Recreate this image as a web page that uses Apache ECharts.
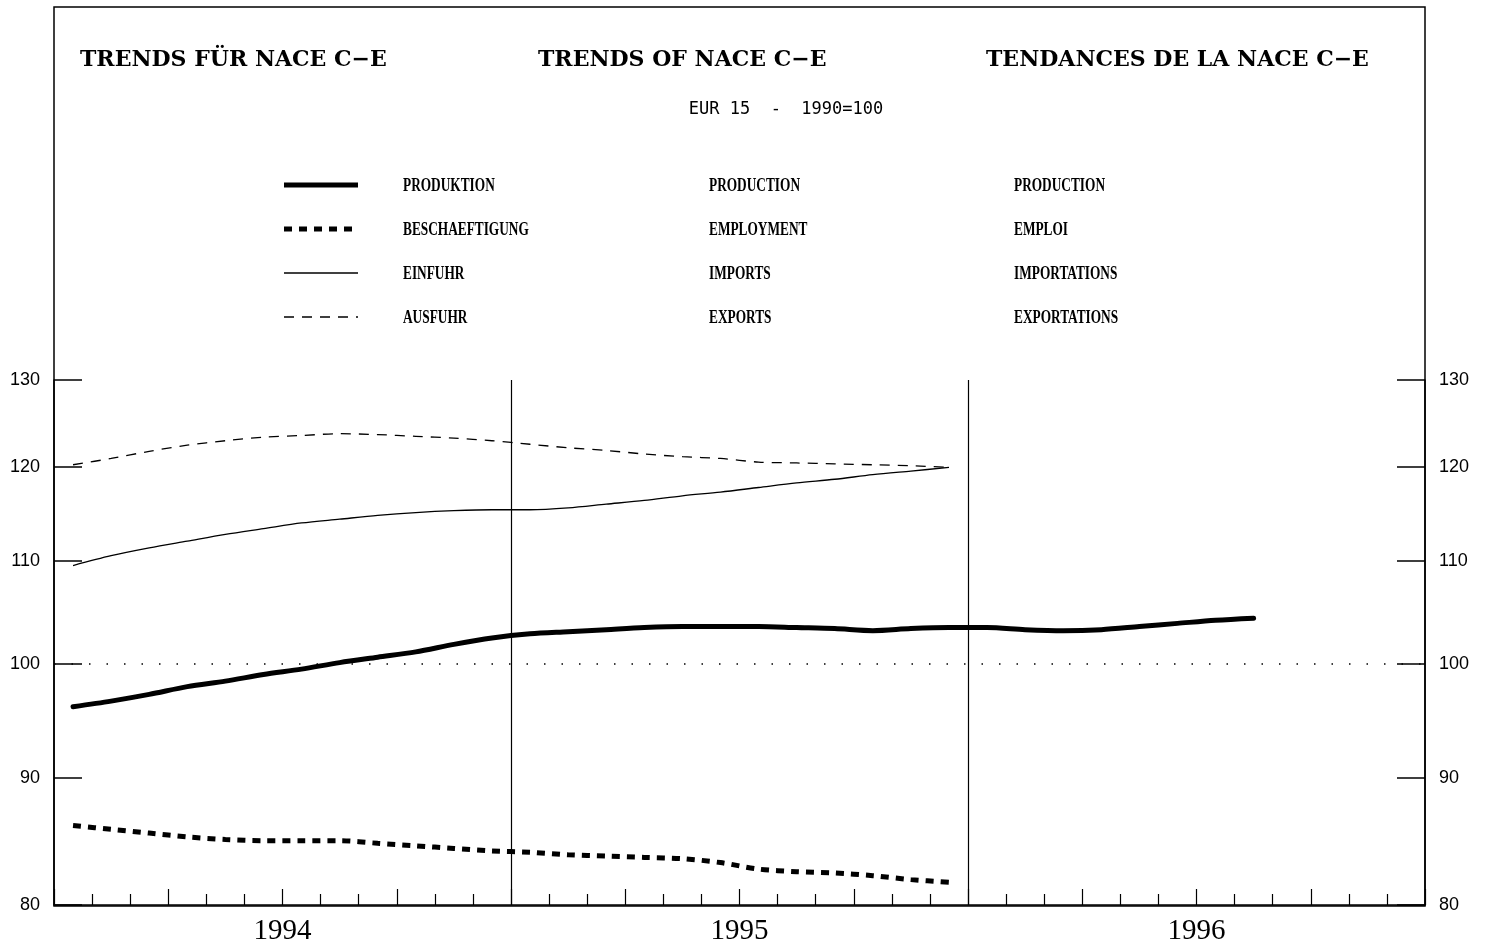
<!DOCTYPE html>
<html><head><meta charset="utf-8">
<script src="https://cdn.jsdelivr.net/npm/echarts@6/dist/echarts.min.js"></script>
<style>html,body{margin:0;padding:0;background:#fff}#c{width:1485px;height:946px}</style>
</head><body><div id="c"></div>
<script>
// ---- data ----
const months = ['1994-01','1994-02','1994-03','1994-04','1994-05','1994-06','1994-07','1994-08','1994-09','1994-10','1994-11','1994-12',
  '1995-01','1995-02','1995-03','1995-04','1995-05','1995-06','1995-07','1995-08','1995-09','1995-10','1995-11','1995-12',
  '1996-01','1996-02','1996-03','1996-04','1996-05','1996-06','1996-07','1996-08'];
const yearLabels = ['1994','1995','1996'];
const yTicks = [80, 90, 100, 110, 120, 130];
const production = [96.1,96.6,97.2,97.9,98.4,99.0,99.5,100.1,100.6,101.1,101.8,102.4,
  102.8,103.0,103.2,103.4,103.5,103.5,103.5,103.4,103.3,103.1,103.3,103.4,
  103.4,103.2,103.1,103.2,103.5,103.8,104.1,104.3];
const employment = [86.1,85.8,85.5,85.2,85.0,84.9,84.9,84.9,84.7,84.5,84.3,84.1,
  84.0,83.8,83.7,83.6,83.5,83.2,82.7,82.5,82.4,82.2,81.9,81.7];
const imports = [109.5,110.5,111.3,112.0,112.7,113.3,113.9,114.3,114.7,115.0,115.2,115.3,
  115.3,115.5,115.9,116.3,116.8,117.2,117.7,118.2,118.6,119.1,119.5,119.9];
const exportsS = [120.2,120.9,121.7,122.4,122.9,123.3,123.5,123.7,123.6,123.4,123.2,122.9,
  122.5,122.1,121.8,121.4,121.1,120.9,120.5,120.4,120.3,120.2,120.1,119.9];
const titles = ['TRENDS FÜR NACE C−E','TRENDS OF NACE C−E','TENDANCES DE LA NACE C−E'];
const subtitle = 'EUR 15  -  1990=100';
const legendDE = ['PRODUKTION','BESCHAEFTIGUNG','EINFUHR','AUSFUHR'];
const legendEN = ['PRODUCTION','EMPLOYMENT','IMPORTS','EXPORTS'];
const legendFR = ['PRODUCTION','EMPLOI','IMPORTATIONS','EXPORTATIONS'];

// ---- build ----
const toXY = arr => arr.map((v,i)=>[i+0.5, v]);
const yearCenter = {6: yearLabels[0], 18: yearLabels[1], 30: yearLabels[2]};
const styles = [
  {width:5, type:'solid'},
  {width:5, type:[8,7]},
  {width:1.3, type:'solid'},
  {width:1.3, type:[10,8]}
];
const legendY = [186, 230, 274, 318];
const graphics = [
  {type:'rect', shape:{x:54, y:7, width:1371, height:899}, style:{fill:'none', stroke:'#000', lineWidth:1.5}, z:-1}
];
const titleX = [80, 538, 986];
titles.forEach((t,i)=>graphics.push({type:'text', x:titleX[i], y:60,
  style:{text:t, font:'bold 22px "DejaVu Serif"', fill:'#000', verticalAlign:'middle'}}));
graphics.push({type:'text', x:786, y:110, style:{text:subtitle, font:'17px "DejaVu Sans Mono"', fill:'#000', align:'center', verticalAlign:'middle'}});
legendY.forEach((y,i)=>{
  graphics.push({type:'line', shape:{x1:284,y1:y-1,x2:358,y2:y-1}, style:{stroke:'#000', lineWidth:styles[i].width, lineDash: styles[i].type==='solid'?null:styles[i].type}});
  [legendDE, legendEN, legendFR].forEach((col,j)=>{
    graphics.push({type:'text', x:[403,709,1014][j], y:y, scaleX:0.74,
      style:{text:col[i], font:'bold 18px "Liberation Serif"', fill:'#000', verticalAlign:'middle'}});
  });
});

const yAxisBase = {
  type:'log', min:80, max:130, logBase:10,
  splitLine:{show:false},
  axisLine:{show:true, lineStyle:{color:'#000', width:1.5}},
  axisTick:{show:true, inside:true, length:28, customValues:yTicks, lineStyle:{color:'#000', width:1.5}},
  axisLabel:{show:true, customValues:yTicks, margin:14, color:'#000', fontFamily:'Liberation Sans', fontSize:18},
  minorTick:{show:false}
};

const option = {
  animation:false,
  backgroundColor:'#fff',
  grid:{left:54, right:60, top:380, bottom:41, containLabel:false},
  xAxis:{
    type:'value', min:0, max:36, interval:3,
    splitLine:{show:false},
    axisLine:{show:true, onZero:false, lineStyle:{color:'#000', width:1.5}},
    axisTick:{show:true, inside:true, length:16, lineStyle:{color:'#000', width:1.2}},
    minorTick:{show:true, splitNumber:3, length:11, lineStyle:{color:'#000', width:1.2}},
    axisLabel:{show:true, margin:12, color:'#000', fontFamily:'Liberation Serif', fontSize:29,
      formatter:v=>yearCenter[v]||'', showMinLabel:false, showMaxLabel:false}
  },
  yAxis:[Object.assign({position:'left'}, yAxisBase), Object.assign({position:'right'}, yAxisBase)],
  graphic:graphics,
  series:[
    {type:'line', name:legendEN[0], data:toXY(production), showSymbol:false, smooth:0.3, lineStyle:{color:'#000', width:5, cap:'round'},
      markLine:{silent:true, symbol:'none', label:{show:false},
        data:[
          {yAxis:100, lineStyle:{type:[1.5,16], color:'#000', width:1.5}},
          {xAxis:12, lineStyle:{type:'solid', color:'#000', width:1.2}},
          {xAxis:24, lineStyle:{type:'solid', color:'#000', width:1.2}}
        ]}},
    {type:'line', name:legendEN[1], data:toXY(employment), showSymbol:false, smooth:0.3, lineStyle:{color:'#000', width:5, type:[8,7]}},
    {type:'line', name:legendEN[2], data:toXY(imports), showSymbol:false, smooth:0.3, lineStyle:{color:'#000', width:1.3}},
    {type:'line', name:legendEN[3], data:toXY(exportsS), showSymbol:false, smooth:0.3, lineStyle:{color:'#000', width:1.3, type:[10,8]}}
  ]
};
const chart = echarts.init(document.getElementById('c'), null, {renderer:'canvas'});
chart.setOption(option);
</script></body></html>
